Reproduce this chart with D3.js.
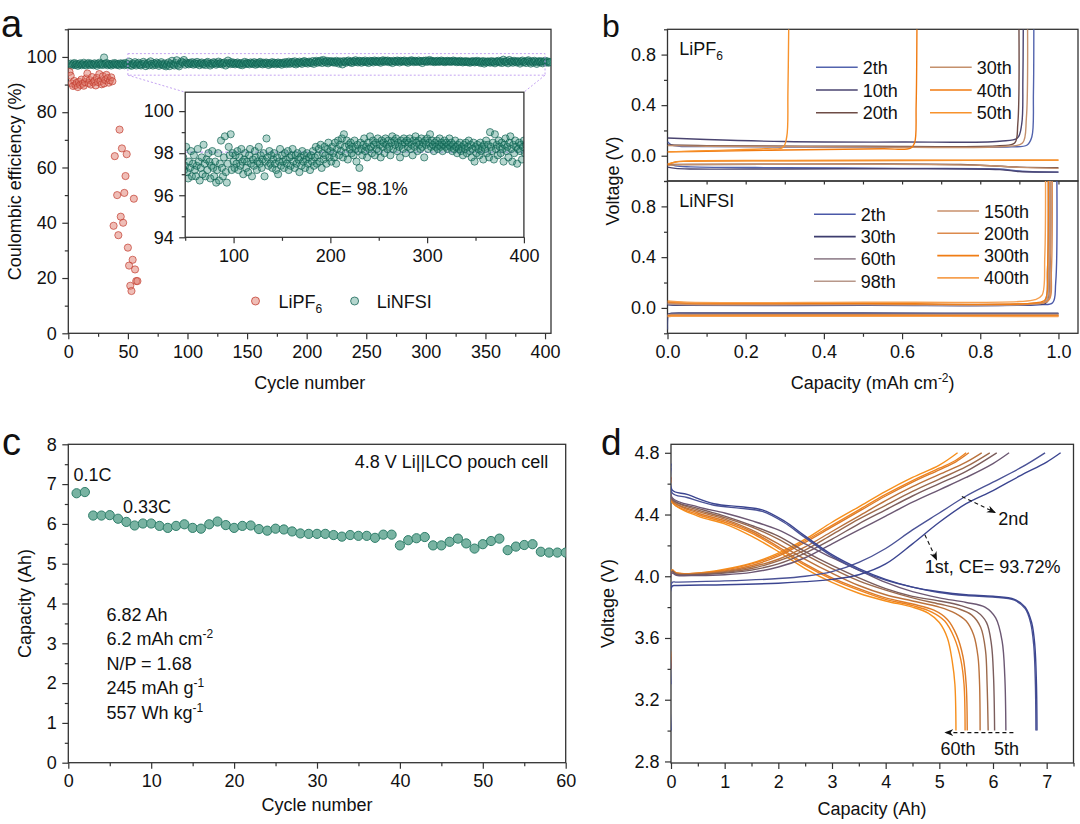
<!DOCTYPE html>
<html>
<head>
<meta charset="utf-8">
<script src="https://cdn.jsdelivr.net/npm/d3@7"></script>
<style>
body { margin: 0; background: #fff; }
svg { font-family: "Liberation Sans", Arial, sans-serif; }
</style>
</head>
<body>
<svg id="fig" width="1080" height="824"></svg>
<script>
const FONT = '"Liberation Sans", Arial, sans-serif';

// ---------- panel a : coulombic efficiency ----------
// LiPF6, cycles 1..37 then the failing cycles
const pf6EarlyCE = [94.6, 93.2, 90.4, 89.5, 91.3, 89.8, 90.6, 89.1, 91.0, 89.9, 91.8, 90.3, 89.6, 90.9, 92.2, 94.0, 90.5, 91.6, 90.0, 92.7,
  90.8, 91.3, 89.7, 92.4, 90.9, 93.8, 91.2, 90.1, 93.0, 90.4, 91.7, 93.5, 92.3, 90.7, 91.5, 92.6, 91.2];
const pf6LateCycles = [38, 39, 41, 42, 43, 44, 45, 46, 47, 48, 49, 50, 51, 52, 53, 54, 55, 56, 57, 58];
const pf6LateCE = [38.9, 64.1, 50.0, 35.5, 73.7, 42.2, 66.9, 40.0, 50.8, 56.9, 64.8, 31.0, 24.5, 17.2, 15.3, 26.6, 48.7, 23.1, 18.9, 18.9];

// LiNFSI, cycles 1..404
const nfsiCE = [
  97.2, 97.6, 96.9, 97.4, 97.8, 97.1, 97.5, 96.8, 97.3, 97.7, 97.0, 97.4, 97.9, 97.2, 96.9, 97.5, 97.8, 97.1, 97.6, 97.3,
  97.0, 97.7, 97.4, 96.8, 97.5, 97.9, 97.2, 97.6, 97.1, 99.8, 97.4, 97.8, 97.0, 97.5, 97.3, 96.9, 97.6, 97.2, 97.8, 97.4,
  97.1, 97.5, 96.9, 97.7, 97.3, 97.6, 97.0, 97.8, 97.2, 97.4, 98.3, 97.1, 96.8, 97.6, 97.3, 98.1, 96.9, 97.5, 97.9, 97.2,
  96.9, 97.4, 98.2, 97.6, 96.7, 97.3, 97.8, 97.0, 98.4, 97.5, 96.9, 97.7, 97.2, 98.0, 97.6, 96.8, 97.4, 98.1, 97.3, 96.9,
  97.6, 96.6, 97.2, 98.0, 96.7, 97.5, 98.6, 97.3, 96.9, 97.8, 98.8, 97.1, 96.6, 97.5, 98.3, 97.9, 98.9, 97.2, 98.0, 97.6,
  97.3, 97.9, 97.5, 98.1, 97.2, 97.8, 97.4, 98.2, 97.6, 97.0, 97.7, 98.0, 97.3, 97.6, 97.1, 97.9, 98.2, 97.5, 96.9, 97.7,
  97.4, 98.1, 97.8, 97.2, 97.6, 98.3, 97.5, 97.9, 97.3, 97.7, 98.0, 96.9, 97.6, 98.7, 97.8, 97.4, 98.1, 97.5, 97.9, 97.3,
  97.7, 98.0, 97.5, 97.2, 97.8, 97.0, 97.6, 98.2, 97.4, 97.9, 97.6, 97.3, 98.0, 97.7, 97.5, 98.1, 97.2, 97.8, 97.4, 97.9,
  98.2, 97.6, 97.3, 97.9, 97.5, 98.0, 97.7, 97.1, 97.8, 97.4, 98.1, 97.6, 97.9, 97.3, 97.7, 98.0, 97.5, 97.8, 97.2, 97.9,
  97.6, 98.1, 97.4, 97.8, 98.3, 97.5, 97.9, 98.2, 97.6, 98.4, 97.3, 98.0, 97.7, 98.3, 97.9, 97.5, 98.2, 98.5, 97.8, 98.1,
  97.6, 98.3, 98.0, 97.8, 98.5, 97.5, 98.2, 98.6, 97.9, 98.4, 98.1, 98.7, 97.8, 98.9, 98.3, 98.0, 98.6, 97.7, 98.4, 98.2,
  98.5, 98.0, 98.3, 97.9, 98.6, 98.2, 97.6, 98.4, 98.1, 97.3, 98.5, 98.2, 97.9, 98.4, 98.7, 98.1, 98.3, 97.8, 98.5, 98.2,
  98.8, 98.3, 98.0, 98.6, 98.4, 97.9, 98.5, 98.2, 98.7, 98.1, 98.4, 97.8, 98.6, 98.3, 98.5, 98.0, 98.7, 98.4, 98.2, 98.6,
  98.3, 97.9, 98.5, 98.8, 98.2, 98.6, 98.4, 98.7, 98.1, 98.5, 98.3, 97.8, 98.6, 98.4, 98.2, 98.7, 98.5, 98.0, 98.6, 98.3,
  98.5, 98.7, 98.2, 98.4, 97.9, 98.6, 98.3, 98.8, 98.5, 98.1, 98.6, 98.4, 98.2, 98.7, 98.3, 98.5, 97.8, 98.6, 98.4, 98.7,
  98.2, 98.5, 98.9, 98.3, 98.6, 98.4, 98.1, 98.5, 98.3, 98.6, 98.2, 98.4, 98.7, 98.3, 98.5, 98.1, 98.4, 98.6, 98.3, 98.5,
  98.2, 98.4, 98.7, 98.3, 98.5, 98.1, 98.4, 98.2, 98.6, 98.3, 98.0, 98.4, 98.2, 98.5, 98.1, 98.3, 97.9, 98.4, 98.2, 98.5,
  98.0, 98.3, 98.6, 98.1, 98.4, 97.8, 98.2, 98.5, 97.6, 98.3, 98.0, 98.4, 98.2, 97.9, 98.5, 98.1, 98.3, 97.7, 98.4, 98.2,
  98.6, 98.0, 98.4, 97.8, 99.0, 98.3, 98.1, 98.5, 97.7, 98.9, 98.2, 98.4, 97.9, 98.6, 98.3, 98.0, 98.5, 98.2, 97.6, 98.4,
  98.7, 98.1, 98.3, 97.8, 98.5, 98.8, 98.2, 97.6, 98.4, 98.0, 98.6, 98.3, 97.5, 98.2, 98.5, 98.1, 98.4, 97.7, 98.3, 98.6,
  98.0, 98.4, 97.9, 98.2];
const ceAverage = 98.05;
const zoomBox = [50, 400, 93.4, 101.2];   // cycles, CE range shown in the inset

// ---------- panel b : Li||Cu voltage profiles ----------
const pf6Names = ["2th", "10th", "20th", "30th", "40th", "50th"];
const pf6Strip = [
  [[0, 0.11], [0.01, 0.085], [0.03, 0.075], [0.1, 0.072], [0.4, 0.068], [0.7, 0.068], [0.88, 0.07], [0.92, 0.085], [0.932, 0.15], [0.936, 0.5], [0.937, 1.0]],
  [[0, 0.14], [0.1, 0.128], [0.3, 0.112], [0.6, 0.108], [0.85, 0.115], [0.895, 0.14], [0.906, 0.25], [0.909, 0.6], [0.91, 1.0]],
  [[0, 0.085], [0.1, 0.08], [0.5, 0.075], [0.85, 0.08], [0.888, 0.1], [0.896, 0.25], [0.899, 1.0]],
  [[0, 0.08], [0.1, 0.075], [0.5, 0.07], [0.87, 0.075], [0.908, 0.1], [0.918, 0.3], [0.921, 1.0]],
  [[0, 0.03], [0.1, 0.035], [0.3, 0.045], [0.55, 0.055], [0.622, 0.06], [0.632, 0.1], [0.636, 0.4], [0.638, 1.0]],
  [[0, 0.03], [0.1, 0.04], [0.25, 0.055], [0.295, 0.065], [0.305, 0.15], [0.308, 0.5], [0.31, 1.0]]
];
const pf6Plate = [
  [[0, -0.06], [0.02, -0.08], [0.06, -0.088], [0.3, -0.095], [0.6, -0.1], [0.85, -0.105], [0.88, -0.115], [0.92, -0.125], [1.0, -0.13]],
  [[0, -0.09], [0.02, -0.1], [0.06, -0.105], [0.3, -0.105], [0.6, -0.103], [0.85, -0.11], [0.9, -0.125], [1.0, -0.13]],
  [[0, -0.07], [0.05, -0.07], [0.5, -0.065], [0.75, -0.07], [0.9, -0.09], [1.0, -0.095]],
  [[0, -0.075], [0.05, -0.07], [0.5, -0.068], [0.8, -0.075], [0.9, -0.092], [1.0, -0.1]],
  [[0, -0.07], [0.02, -0.05], [0.05, -0.044], [0.3, -0.04], [0.6, -0.038], [1.0, -0.035]],
  [[0, -0.065], [0.03, -0.045], [0.07, -0.04], [0.3, -0.038], [0.6, -0.036], [1.0, -0.035]]
];
const nfsiNames = ["2th", "30th", "60th", "98th", "150th", "200th", "300th", "400th"];
const nfsiStrip = [
  [[0, 0.03], [0.02, 0.022], [0.05, 0.02], [0.5, 0.02], [0.95, 0.025], [0.985, 0.04], [0.993, 0.2], [0.996, 1.0]],
  [[0, 0.025], [0.05, 0.02], [0.5, 0.022], [0.94, 0.028], [0.97, 0.045], [0.978, 0.3], [0.98, 1.0]],
  [[0, 0.03], [0.05, 0.025], [0.5, 0.025], [0.94, 0.03], [0.965, 0.05], [0.972, 0.3], [0.974, 1.0]],
  [[0, 0.035], [0.05, 0.028], [0.5, 0.028], [0.94, 0.032], [0.968, 0.05], [0.975, 0.3], [0.977, 1.0]],
  [[0, 0.04], [0.05, 0.03], [0.5, 0.03], [0.94, 0.035], [0.972, 0.055], [0.978, 0.3], [0.98, 1.0]],
  [[0, 0.045], [0.05, 0.035], [0.5, 0.033], [0.94, 0.037], [0.975, 0.06], [0.982, 0.3], [0.984, 1.0]],
  [[0, 0.05], [0.05, 0.04], [0.5, 0.037], [0.94, 0.04], [0.966, 0.065], [0.972, 0.3], [0.974, 1.0]],
  [[0, 0.055], [0.05, 0.045], [0.5, 0.045], [0.9, 0.05], [0.94, 0.065], [0.958, 0.1], [0.965, 0.4], [0.967, 1.0]]
];
const nfsiPlate = [
  [[0, -0.17], [0.002, -0.06], [0.006, -0.05], [0.02, -0.047], [0.1, -0.046], [0.5, -0.045], [1.0, -0.045]],
  [[0, -0.05], [0.01, -0.042], [0.05, -0.04], [0.5, -0.04], [1.0, -0.042]],
  [[0, -0.055], [0.01, -0.05], [0.05, -0.05], [0.5, -0.05], [1.0, -0.05]],
  [[0, -0.06], [0.01, -0.055], [0.05, -0.055], [0.5, -0.055], [1.0, -0.055]],
  [[0, -0.06], [0.01, -0.058], [0.05, -0.059], [0.5, -0.06], [1.0, -0.06]],
  [[0, -0.065], [0.01, -0.062], [0.05, -0.062], [0.5, -0.063], [1.0, -0.065]],
  [[0, -0.065], [0.01, -0.06], [0.05, -0.059], [0.5, -0.058], [1.0, -0.06]],
  [[0, -0.07], [0.01, -0.066], [0.05, -0.066], [0.5, -0.066], [1.0, -0.068]]
];

// ---------- panel c : pouch cell cycling ----------
const pouchCapacity = [6.77, 6.80, 6.21, 6.21, 6.22, 6.13, 6.05, 5.96, 6.01, 6.01, 5.95, 5.90, 5.95, 5.99, 5.90, 5.88, 5.99, 6.06, 5.97, 5.90,
  5.95, 5.96, 5.87, 5.83, 5.88, 5.86, 5.81, 5.76, 5.75, 5.75, 5.75, 5.72, 5.68, 5.72, 5.70, 5.70, 5.65, 5.73, 5.73, 5.46,
  5.59, 5.64, 5.67, 5.46, 5.46, 5.55, 5.63, 5.51, 5.38, 5.49, 5.57, 5.63, 5.34, 5.43, 5.47, 5.49, 5.30, 5.28, 5.28, 5.28];
const pouchNotes = ["6.82 Ah", "6.2 mAh cm^-2", "N/P = 1.68", "245 mAh g^-1", "557 Wh kg^-1"];

// ---------- panel d : pouch cell voltage profiles ----------
const dNames = ["1st", "2nd", "5th", "10th", "20th", "30th", "40th", "50th", "60th"];
const dDischarge = [
  [[0, 4.73], [0.02, 4.56], [0.3, 4.53], [0.8, 4.47], [1.3, 4.45], [1.7, 4.43], [2.1, 4.36], [2.5, 4.26], [3.0, 4.14], [3.5, 4.05], [4.0, 3.98], [4.5, 3.93], [5.0, 3.90], [5.5, 3.88], [6.0, 3.87], [6.4, 3.85], [6.6, 3.80], [6.72, 3.70], [6.78, 3.55], [6.81, 3.3], [6.82, 3.0]],
  [[0, 4.70], [0.02, 4.54], [0.3, 4.51], [0.8, 4.46], [1.3, 4.44], [1.7, 4.42], [2.1, 4.35], [2.5, 4.25], [3.0, 4.13], [3.5, 4.04], [4.0, 3.975], [4.5, 3.93], [5.0, 3.895], [5.5, 3.875], [6.0, 3.865], [6.4, 3.845], [6.6, 3.79], [6.70, 3.70], [6.76, 3.55], [6.79, 3.3], [6.80, 3.0]],
  [[0, 4.64], [0.02, 4.51], [0.5, 4.45], [1.0, 4.41], [1.5, 4.36], [2.0, 4.30], [2.5, 4.21], [3.0, 4.12], [3.5, 4.04], [4.0, 3.96], [4.5, 3.90], [5.0, 3.86], [5.5, 3.83], [5.85, 3.80], [6.05, 3.73], [6.17, 3.58], [6.22, 3.35], [6.24, 3.0]],
  [[0, 4.64], [0.02, 4.50], [0.5, 4.44], [1.0, 4.39], [1.5, 4.33], [2.0, 4.26], [2.5, 4.16], [3.0, 4.07], [3.5, 3.99], [4.0, 3.92], [4.5, 3.87], [5.0, 3.84], [5.4, 3.81], [5.7, 3.77], [5.88, 3.70], [5.97, 3.56], [6.01, 3.35], [6.03, 3.0]],
  [[0, 4.64], [0.02, 4.50], [0.5, 4.43], [1.0, 4.38], [1.5, 4.32], [2.0, 4.24], [2.5, 4.14], [3.0, 4.05], [3.5, 3.97], [4.0, 3.91], [4.5, 3.86], [5.0, 3.82], [5.35, 3.79], [5.6, 3.75], [5.77, 3.67], [5.86, 3.52], [5.89, 3.3], [5.91, 3.0]],
  [[0, 4.64], [0.02, 4.49], [0.5, 4.42], [1.0, 4.37], [1.5, 4.30], [2.0, 4.21], [2.5, 4.11], [3.0, 4.02], [3.5, 3.94], [4.0, 3.88], [4.5, 3.84], [5.0, 3.80], [5.3, 3.76], [5.5, 3.71], [5.64, 3.62], [5.72, 3.48], [5.75, 3.3], [5.76, 3.0]],
  [[0, 4.64], [0.02, 4.49], [0.5, 4.41], [1.0, 4.36], [1.5, 4.29], [2.0, 4.19], [2.5, 4.08], [3.0, 3.99], [3.5, 3.92], [4.0, 3.86], [4.5, 3.82], [4.9, 3.78], [5.15, 3.72], [5.32, 3.62], [5.44, 3.48], [5.50, 3.3], [5.52, 3.0]],
  [[0, 4.64], [0.02, 4.48], [0.5, 4.40], [1.0, 4.35], [1.5, 4.28], [2.0, 4.18], [2.5, 4.07], [3.0, 3.98], [3.5, 3.91], [4.0, 3.85], [4.5, 3.81], [4.85, 3.77], [5.1, 3.71], [5.28, 3.60], [5.40, 3.46], [5.46, 3.3], [5.48, 3.0]],
  [[0, 4.64], [0.02, 4.48], [0.5, 4.39], [1.0, 4.34], [1.5, 4.26], [2.0, 4.16], [2.5, 4.05], [3.0, 3.96], [3.5, 3.89], [4.0, 3.84], [4.5, 3.80], [4.8, 3.76], [5.0, 3.70], [5.15, 3.60], [5.24, 3.45], [5.29, 3.3], [5.31, 3.0]]
];
const dCharge = [
  [[0, 3.0], [0.02, 3.935], [0.1, 3.94], [1.0, 3.945], [2.0, 3.955], [2.5, 3.965], [3.0, 3.98], [3.5, 4.01], [4.0, 4.08], [4.5, 4.21], [5.0, 4.35], [5.5, 4.47], [6.0, 4.555], [6.5, 4.65], [7.0, 4.74], [7.26, 4.80]],
  [[0, 3.3], [0.02, 3.96], [0.1, 3.962], [1.0, 3.97], [2.0, 3.985], [2.5, 4.0], [3.0, 4.03], [3.5, 4.09], [4.0, 4.18], [4.5, 4.30], [5.0, 4.41], [5.5, 4.52], [6.0, 4.61], [6.5, 4.70], [6.97, 4.80]],
  [[0, 3.4], [0.02, 4.02], [0.1, 4.006], [0.5, 4.005], [1.0, 4.01], [1.5, 4.025], [2.0, 4.06], [2.5, 4.12], [3.0, 4.21], [3.5, 4.30], [4.0, 4.39], [4.5, 4.48], [5.0, 4.56], [5.5, 4.64], [6.0, 4.73], [6.30, 4.80]],
  [[0, 3.4], [0.02, 4.03], [0.1, 4.012], [0.5, 4.01], [1.0, 4.02], [1.5, 4.04], [2.0, 4.08], [2.5, 4.15], [3.0, 4.24], [3.5, 4.34], [4.0, 4.43], [4.5, 4.52], [5.0, 4.60], [5.5, 4.68], [6.07, 4.80]],
  [[0, 3.4], [0.02, 4.03], [0.1, 4.013], [0.5, 4.012], [1.0, 4.025], [1.5, 4.05], [2.0, 4.10], [2.5, 4.17], [3.0, 4.27], [3.5, 4.37], [4.0, 4.46], [4.5, 4.55], [5.0, 4.63], [5.5, 4.71], [5.94, 4.80]],
  [[0, 3.4], [0.02, 4.035], [0.1, 4.016], [0.5, 4.015], [1.0, 4.03], [1.5, 4.06], [2.0, 4.11], [2.5, 4.19], [3.0, 4.29], [3.5, 4.39], [4.0, 4.49], [4.5, 4.58], [5.0, 4.66], [5.5, 4.74], [5.79, 4.80]],
  [[0, 3.4], [0.02, 4.035], [0.1, 4.02], [0.5, 4.02], [1.0, 4.035], [1.5, 4.07], [2.0, 4.13], [2.5, 4.22], [3.0, 4.32], [3.5, 4.42], [4.0, 4.52], [4.5, 4.61], [5.0, 4.69], [5.3, 4.74], [5.55, 4.80]],
  [[0, 3.4], [0.02, 4.04], [0.1, 4.021], [0.5, 4.02], [1.0, 4.04], [1.5, 4.08], [2.0, 4.14], [2.5, 4.23], [3.0, 4.33], [3.5, 4.43], [4.0, 4.53], [4.5, 4.62], [5.0, 4.70], [5.3, 4.75], [5.50, 4.80]],
  [[0, 3.4], [0.02, 4.04], [0.1, 4.021], [0.5, 4.02], [1.0, 4.045], [1.5, 4.085], [2.0, 4.15], [2.5, 4.24], [3.0, 4.35], [3.5, 4.45], [4.0, 4.55], [4.5, 4.64], [5.0, 4.72], [5.34, 4.80]]
];

// colours
const pf6Colors = ["#5263ad", "#4a4470", "#6e4c46", "#c4906c", "#f07a10", "#f7922c"];
const nfsiColors = ["#4a58a8", "#3d3d6e", "#9a8a95", "#b8988a", "#c8906c", "#dc8a4c", "#f07d14", "#f6a050"];
const dColors = ["#3b4590", "#4a5296", "#6c5873", "#7b5d5c", "#9c6a4c", "#bb723c", "#dd7b28", "#ef8420", "#f68f1c"];
const teal = "#0d5f50", tealFill = "#2a8a72", red = "#c0392b", redFill = "#e07b6e";

const svg = d3.select("#fig");
svg.append("rect").attr("width", 1080).attr("height", 824).attr("fill", "#fff");
const defs = svg.append("defs");
defs.append("marker").attr("id", "arr").attr("viewBox", "0 0 10 10")
  .attr("refX", 9).attr("refY", 5).attr("markerWidth", 9).attr("markerHeight", 9)
  .attr("markerUnits", "userSpaceOnUse").attr("orient", "auto")
  .append("path").attr("d", "M0,1 L10,5 L0,9 L3,5 Z").attr("fill", "#111");

function clip(id, x, y) {
  const [x0, x1] = x.range(), [y0, y1] = y.range();
  defs.append("clipPath").attr("id", id).append("rect")
    .attr("x", x0).attr("y", y1).attr("width", x1 - x0).attr("height", y0 - y1);
  return `url(#${id})`;
}

function frame(x, y, o) {
  const g = svg.append("g");
  const [x0, x1] = x.range(), [y0, y1] = y.range();
  const bottom = g.append("g").attr("transform", `translate(0,${y0})`);
  if (o.xMinor) bottom.append("g").call(d3.axisBottom(x).tickValues(o.xMinor).tickSize(3.5).tickFormat(""));
  if (o.xMajor) bottom.append("g").call(d3.axisBottom(x).tickValues(o.xMajor).tickSize(6).tickPadding(6).tickFormat(o.xFmt || ""));
  const left = g.append("g").attr("transform", `translate(${x0},0)`);
  if (o.yMinor) left.append("g").call(d3.axisLeft(y).tickValues(o.yMinor).tickSize(3.5).tickFormat(""));
  if (o.yMajor) left.append("g").call(d3.axisLeft(y).tickValues(o.yMajor).tickSize(6).tickPadding(5.5).tickFormat(o.yFmt || ""));
  g.selectAll(".domain").remove();
  g.selectAll(".tick line").attr("stroke", "#333").attr("stroke-width", 1.2);
  g.selectAll(".tick text").attr("fill", "#111").style("font-size", "18px").style("font-family", FONT);
  g.append("rect").attr("x", x0).attr("y", y1).attr("width", x1 - x0).attr("height", y0 - y1)
    .attr("fill", "none").attr("stroke", "#333").attr("stroke-width", 1.3);
  return g;
}

function label(x, y, s, size, anchor, rotate) {
  const t = svg.append("text").attr("font-size", size || 18).attr("fill", "#111")
    .attr("text-anchor", anchor || "start");
  if (rotate) t.attr("transform", `translate(${x},${y}) rotate(-90)`);
  else t.attr("x", x).attr("y", y);
  // "base^sup" -> superscript, "base_sub" -> subscript
  const sup = s.match(/^(.*)\^(-?\d+)(.*)$/), sub = s.match(/^(.*)_(\d+)(.*)$/);
  if (sup) {
    t.append("tspan").text(sup[1]);
    t.append("tspan").attr("dy", -7).attr("font-size", 12).text(sup[2]);
    t.append("tspan").attr("dy", 7).text(sup[3]);
  } else if (sub) {
    t.append("tspan").text(sub[1]);
    t.append("tspan").attr("dy", 5).attr("font-size", 12).text(sub[2]);
    t.append("tspan").attr("dy", -5).text(sub[3]);
  } else t.text(s);
  return t;
}

const smooth = (x, y) => d3.line().x(d => x(d[0])).y(d => y(d[1])).curve(d3.curveCatmullRom.alpha(0.5));

// ================= panel a =================
const ax = d3.scaleLinear().domain([0, 405]).range([68.3, 551]);
const ay = d3.scaleLinear().domain([0, 110]).range([333.3, 29.3]);
frame(ax, ay, {
  xMajor: d3.range(0, 401, 50), xMinor: d3.range(25, 401, 50), xFmt: d3.format("d"),
  yMajor: d3.range(0, 101, 20), yMinor: d3.range(10, 111, 20), yFmt: d3.format("d")
});
const aPlot = svg.append("g").attr("clip-path", clip("ca", ax, ay));
aPlot.selectAll("circle.nfsi").data(nfsiCE).join("circle")
  .attr("cx", (d, i) => ax(i + 1)).attr("cy", d => ay(d)).attr("r", 3.6)
  .attr("fill", tealFill).attr("fill-opacity", 0.35).attr("stroke", teal).attr("stroke-opacity", 0.75).attr("stroke-width", 0.9);
const pf6Points = pf6EarlyCE.map((v, i) => [i + 1, v]).concat(pf6LateCycles.map((c, i) => [c, pf6LateCE[i]]));
aPlot.selectAll("circle.pf6").data(pf6Points).join("circle")
  .attr("cx", d => ax(d[0])).attr("cy", d => ay(d[1])).attr("r", 3.6)
  .attr("fill", redFill).attr("fill-opacity", 0.5).attr("stroke", red).attr("stroke-opacity", 0.75).attr("stroke-width", 0.9);

// inset
const ix = d3.scaleLinear().domain([50, 400]).range([185.2, 523.9]);
const iy = d3.scaleLinear().domain([94, 100.9]).range([237.3, 92.2]);
const violet = "#c4a3f2";
svg.append("rect").attr("x", ax(zoomBox[0])).attr("y", ay(zoomBox[3]))
  .attr("width", ax(zoomBox[1]) - ax(zoomBox[0])).attr("height", ay(zoomBox[2]) - ay(zoomBox[3]))
  .attr("fill", "none").attr("stroke", violet).attr("stroke-width", 1).attr("stroke-dasharray", "2,2");
[[zoomBox[0], ix.range()[0]], [zoomBox[1], ix.range()[1]]].forEach(([c, px]) => {
  svg.append("line").attr("x1", ax(c)).attr("y1", ay(zoomBox[2])).attr("x2", px).attr("y2", iy.range()[1])
    .attr("stroke", violet).attr("stroke-width", 1).attr("stroke-dasharray", "2,2");
});
svg.append("rect").attr("x", ix.range()[0]).attr("y", iy.range()[1])
  .attr("width", ix.range()[1] - ix.range()[0]).attr("height", iy.range()[0] - iy.range()[1]).attr("fill", "#fff");
const inPlot = svg.append("g").attr("clip-path", clip("ci", ix, iy));
inPlot.append("line").attr("x1", ix.range()[0]).attr("x2", ix.range()[1])
  .attr("y1", iy(ceAverage)).attr("y2", iy(ceAverage))
  .attr("stroke", "#b48cf0").attr("stroke-width", 1).attr("stroke-dasharray", "3,2");
inPlot.selectAll("circle").data(nfsiCE.map((v, i) => [i + 1, v]).filter(d => d[0] >= 48 && d[0] <= 402)).join("circle")
  .attr("cx", d => ix(d[0])).attr("cy", d => iy(d[1])).attr("r", 3.6)
  .attr("fill", tealFill).attr("fill-opacity", 0.35).attr("stroke", teal).attr("stroke-opacity", 0.75).attr("stroke-width", 0.9);
frame(ix, iy, {
  xMajor: [100, 200, 300, 400], xMinor: [50, 150, 250, 350], xFmt: d3.format("d"),
  yMajor: [94, 96, 98, 100], yMinor: [95, 97, 99], yFmt: d3.format("d")
});
label(ix(185.5), iy(96.0), "CE= 98.1%");

// legend a
svg.append("circle").attr("cx", 255.5).attr("cy", 301).attr("r", 4)
  .attr("fill", redFill).attr("fill-opacity", 0.5).attr("stroke", red).attr("stroke-opacity", 0.75);
label(278.6, 307.5, "LiPF_6");
svg.append("circle").attr("cx", 354.6).attr("cy", 301).attr("r", 4)
  .attr("fill", tealFill).attr("fill-opacity", 0.35).attr("stroke", teal).attr("stroke-opacity", 0.75);
label(376.7, 307.5, "LiNFSI");
label(309.7, 388.5, "Cycle number", 18, "middle");
label(21, 181.3, "Coulombic efficiency (%)", 18, "middle", true);
label(1, 37, "a", 38);

// ================= panel b =================
const bx = d3.scaleLinear().domain([0, 1.05]).range([667.5, 1078]);
const byT = d3.scaleLinear().domain([-0.2, 1.0]).range([181, 29.3]);
const byB = d3.scaleLinear().domain([-0.2, 1.0]).range([333.3, 181]);
const vTicks = [0, 0.4, 0.8], vMinor = [-0.2, 0.2, 0.6, 1.0];
frame(bx, byT, { yMajor: vTicks, yMinor: vMinor, yFmt: d3.format(".1f"), xMinor: d3.range(0.1, 1.01, 0.1) });
frame(bx, byB, {
  xMajor: [0, 0.2, 0.4, 0.6, 0.8, 1.0], xMinor: [0.1, 0.3, 0.5, 0.7, 0.9], xFmt: d3.format(".1f"),
  yMajor: vTicks, yMinor: vMinor, yFmt: d3.format(".1f")
});
const bTop = svg.append("g").attr("clip-path", clip("cbt", bx, byT));
pf6Names.forEach((n, i) => {
  [pf6Plate[i], pf6Strip[i]].forEach(c => bTop.append("path").attr("d", smooth(bx, byT)(c))
    .attr("fill", "none").attr("stroke", pf6Colors[i]).attr("stroke-width", 1.4));
});
const bBot = svg.append("g").attr("clip-path", clip("cbb", bx, byB));
nfsiNames.forEach((n, i) => {
  [nfsiPlate[i], nfsiStrip[i]].forEach(c => bBot.append("path").attr("d", smooth(bx, byB)(c))
    .attr("fill", "none").attr("stroke", nfsiColors[i]).attr("stroke-width", 1.4));
});
// legends b
pf6Names.forEach((n, i) => {
  const col = Math.floor(i / 3), row = i % 3;
  const lx = col ? 930 : 816, ly = 67.3 + row * 22.7;
  svg.append("line").attr("x1", lx).attr("x2", lx + 41.7).attr("y1", ly).attr("y2", ly)
    .attr("stroke", pf6Colors[i]).attr("stroke-width", 1.6);
  label(lx + 46.7, ly + 6.5, n);
});
nfsiNames.forEach((n, i) => {
  const col = Math.floor(i / 4), row = i % 4;
  const lx = col ? 937.3 : 814, ly = (col ? 211 : 214.3) + row * 22.3;
  svg.append("line").attr("x1", lx).attr("x2", lx + 41.7).attr("y1", ly).attr("y2", ly)
    .attr("stroke", nfsiColors[i]).attr("stroke-width", 1.6);
  label(lx + 46.7, ly + 6.5, n);
});
label(679.3, 55, "LiPF_6");
label(679.3, 206.5, "LiNFSI");
label(872.7, 388.5, "Capacity (mAh cm^-2)", 18, "middle");
label(619, 181, "Voltage (V)", 18, "middle", true);
label(602, 36.7, "b", 32);

// ================= panel c =================
const cx = d3.scaleLinear().domain([0, 60]).range([68.3, 565.7]);
const cy = d3.scaleLinear().domain([0, 8]).range([762.7, 444.3]);
frame(cx, cy, {
  xMajor: d3.range(0, 61, 10), xMinor: d3.range(5, 60, 10), xFmt: d3.format("d"),
  yMajor: d3.range(0, 9, 1), yMinor: d3.range(0.5, 8, 1), yFmt: d3.format("d")
});
svg.append("g").attr("clip-path", clip("cc", cx, cy)).selectAll("circle").data(pouchCapacity).join("circle")
  .attr("cx", (d, i) => cx(i + 1)).attr("cy", d => cy(d)).attr("r", 4.6)
  .attr("fill", "#78b3a2").attr("stroke", "#2f7e6a").attr("stroke-width", 1);
label(cx(57.9), cy(7.4), "4.8 V Li||LCO pouch cell", 18, "end");
label(cx(0.64), cy(7.07), "0.1C");
label(cx(6.6), cy(6.27), "0.33C");
pouchNotes.forEach((s, i) => label(cx(4.6), cy(3.57 - i * 0.615), s));
label(317, 810.5, "Cycle number", 18, "middle");
label(31, 603.5, "Capacity (Ah)", 18, "middle", true);
label(2, 455, "c", 38);

// ================= panel d =================
const dx = d3.scaleLinear().domain([0, 7.5]).range([671, 1073.5]);
const dy = d3.scaleLinear().domain([2.79, 4.855]).range([763, 444.3]);
frame(dx, dy, {
  xMajor: d3.range(0, 8, 1), xMinor: d3.range(0.5, 7.6, 1), xFmt: d3.format("d"),
  yMajor: [2.8, 3.2, 3.6, 4.0, 4.4, 4.8], yMinor: [3.0, 3.4, 3.8, 4.2, 4.6], yFmt: d3.format(".1f")
});
const dPlot = svg.append("g").attr("clip-path", clip("cd", dx, dy));
for (let i = dNames.length - 1; i >= 0; i--) {
  [dCharge[i], dDischarge[i]].forEach(c => dPlot.append("path").attr("d", smooth(dx, dy)(c))
    .attr("fill", "none").attr("stroke", dColors[i]).attr("stroke-width", 1.4));
}
function dashArrow(p, q) {
  svg.append("line").attr("x1", dx(p[0])).attr("y1", dy(p[1])).attr("x2", dx(q[0])).attr("y2", dy(q[1]))
    .attr("stroke", "#111").attr("stroke-width", 1.1).attr("stroke-dasharray", "4,3").attr("marker-end", "url(#arr)");
}
dashArrow([5.42, 4.517], [6.04, 4.413]);
dashArrow([4.73, 4.269], [4.95, 4.106]);
dashArrow([6.38, 2.987], [5.11, 2.987]);
label(dx(6.10), dy(4.335), "2nd");
label(dx(4.73), dy(4.021), "1st, CE= 93.72%");
label(dx(5.02), dy(2.842), "60th");
label(dx(6.02), dy(2.842), "5th");
label(872, 815, "Capacity (Ah)", 18, "middle");
label(614, 603.5, "Voltage (V)", 18, "middle", true);
label(601, 455, "d", 37);
</script>
</body>
</html>
